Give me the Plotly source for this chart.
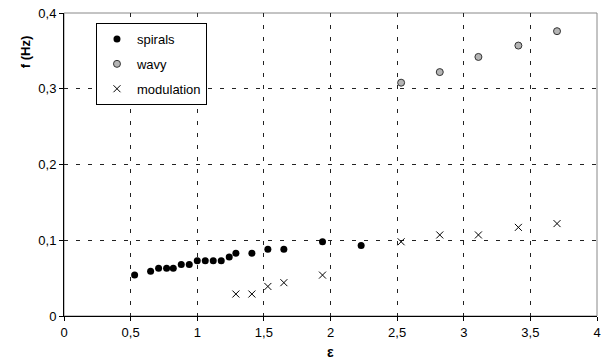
import plotly.graph_objects as go

# Data
spirals_x = [0.53, 0.65, 0.71, 0.77, 0.82, 0.88, 0.94, 1.00, 1.06, 1.12, 1.18, 1.24, 1.29, 1.41, 1.53, 1.65, 1.94, 2.23]
spirals_y = [0.054, 0.059, 0.063, 0.063, 0.063, 0.068, 0.068, 0.073, 0.073, 0.073, 0.073, 0.078, 0.083, 0.083, 0.088, 0.088, 0.098, 0.093]

wavy_x = [2.53, 2.82, 3.11, 3.41, 3.70]
wavy_y = [0.308, 0.322, 0.342, 0.357, 0.376]

modulation_x = [1.29, 1.41, 1.53, 1.65, 1.94, 2.53, 2.82, 3.11, 3.41, 3.70]
modulation_y = [0.029, 0.029, 0.039, 0.044, 0.054, 0.098, 0.107, 0.107, 0.117, 0.122]

series_names = ["spirals", "wavy", "modulation"]
x_title = "ε"
y_title = "f (Hz)"

FONT = "Liberation Sans, Arial, sans-serif"

fig = go.Figure()
fig.add_trace(go.Scatter(
    x=spirals_x, y=spirals_y, mode="markers", name=series_names[0], legendgroup="a",
    marker=dict(symbol="circle", size=7, color="black", line=dict(width=0))))
fig.add_trace(go.Scatter(
    x=wavy_x, y=wavy_y, mode="markers", name=series_names[1], legendgroup="b",
    marker=dict(symbol="circle", size=7, color="#b4b4b4", line=dict(width=1, color="#333333"))))
fig.add_trace(go.Scatter(
    x=modulation_x, y=modulation_y, mode="markers", name=series_names[2], legendgroup="c",
    marker=dict(symbol="x-thin", size=7, color="black", line=dict(width=1, color="black"))))

axis_common = dict(
    showgrid=True, gridcolor="#222222", gridwidth=1, griddash="4px,8px",
    zeroline=False, showline=True, linecolor="black", linewidth=1,
    ticks="outside", ticklen=4, tickcolor="black", tickwidth=1,
    tickfont=dict(family=FONT, size=13, color="black"),
    automargin=False,
)

fig.update_xaxes(range=[0, 4], dtick=0.5, tick0=0, **axis_common)
fig.update_yaxes(range=[0, 0.4], dtick=0.1, tick0=0, **axis_common)

fig.update_layout(
    width=614, height=364,
    margin=dict(l=64, r=17, t=13, b=48),
    plot_bgcolor="white", paper_bgcolor="white",
    separators=", ",
    font=dict(family=FONT, size=13, color="black"),
    legend=dict(
        x=0.06, y=0.967, xanchor="left", yanchor="top",
        bordercolor="black", borderwidth=1, bgcolor="white",
        font=dict(family=FONT, size=13, color="black"),
        traceorder="grouped", tracegroupgap=5,
    ),
    shapes=[dict(type="rect", xref="paper", yref="paper", x0=0, x1=1, y0=0, y1=1,
                 line=dict(color="#888888", width=1), layer="below")],
    annotations=[
        dict(text="<b>" + x_title + "</b>", xref="paper", yref="paper", x=0.5, y=-0.118,
             xanchor="center", yanchor="middle", showarrow=False,
             font=dict(family=FONT, size=14, color="black")),
        dict(text="<b>" + y_title + "</b>", xref="paper", yref="paper", x=-0.073, y=0.871,
             xanchor="center", yanchor="middle", textangle=-90, showarrow=False,
             font=dict(family=FONT, size=13, color="black")),
    ],
)

fig.write_html(
    "out.html",
    config={"displayModeBar": False},
    post_script="document.body.style.margin='0';document.body.style.overflow='hidden';",
)
